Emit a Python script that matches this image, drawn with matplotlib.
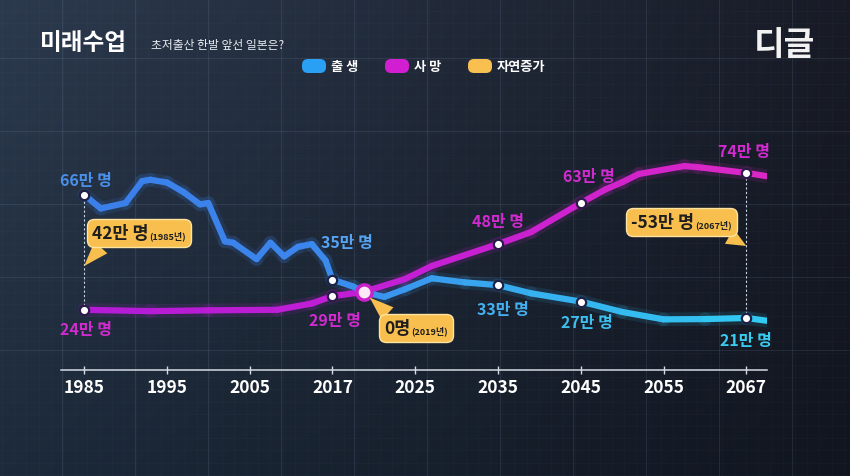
import numpy as np
import matplotlib
matplotlib.use("Agg")
import matplotlib.pyplot as plt
from matplotlib.collections import LineCollection
from matplotlib.colors import LinearSegmentedColormap
from matplotlib.patches import FancyBboxPatch
from matplotlib.offsetbox import TextArea, HPacker, AnnotationBbox

plt.rcParams['font.family'] = ['Noto Sans CJK KR', 'DejaVu Sans']

# axis ticks (evenly spaced on the chart even though the gaps differ)
tick_years = [1985, 1995, 2005, 2017, 2025, 2035, 2045, 2055, 2067]

# births (만 명)
birth_years = [1985, 1987, 1990, 1992, 1993, 1995, 1997, 1999, 2000, 2002, 2003,
               2006, 2008, 2010, 2012, 2014, 2016, 2017, 2019, 2020, 2022, 2024,
               2027, 2031, 2035, 2039, 2045, 2050, 2055, 2061, 2067, 2070]
births = [66, 61, 63, 71, 71.5, 70.5, 67, 62.5, 63, 49, 48.5,
          42.5, 48.5, 43.5, 47, 48, 42, 35, 32.5, 30.5, 28.7, 31.5,
          35.5, 34, 33, 30, 27, 23.2, 20.5, 20.6, 21, 20]

# deaths (만 명)
death_years = [1985, 1993, 2000, 2009, 2014, 2017, 2020, 2024, 2027, 2035, 2039,
               2045, 2048, 2050, 2052, 2058, 2060, 2067, 2070]
deaths = [24, 23.5, 23.8, 24, 26.3, 29, 30.5, 35.2, 40, 48, 52.4,
          63, 68, 70.6, 73.6, 76.5, 76.1, 74, 72.8]

# marked points
mark_years = [1985, 2017, 2035, 2045, 2067]
birth_marks = [66, 35, 33, 27, 21]
death_marks = [24, 29, 48, 63, 74]
cross_year, cross_value = 2020, 30.5

# natural increase callouts
natural_years = ['1985', '2019', '2067']
natural_values = ['42만 명', '0명', '-53만 명']

W, H = 850, 477
fig = plt.figure(figsize=(8.5, 4.77), dpi=100)

# background
bg = fig.add_axes([0, 0, 1, 1], zorder=0)
yy, xx = np.mgrid[0:1:120j, 0:1:200j]
tl = np.array([44, 58, 78]) / 255
tr = np.array([24, 27, 38]) / 255
bl = np.array([28, 42, 58]) / 255
br = np.array([17, 21, 31]) / 255
img = ((1 - xx)[..., None] * (1 - yy)[..., None] * tl + xx[..., None] * (1 - yy)[..., None] * tr
       + (1 - xx)[..., None] * yy[..., None] * bl + xx[..., None] * yy[..., None] * br)
bg.imshow(img, extent=[0, W, H, 0], aspect='auto', interpolation='bilinear')
for gx in np.arange(2, W, 12.2):
    bg.axvline(gx, color='#8fb0d0', lw=0.4, alpha=0.05)
for gy in np.arange(0, H, 12.2):
    bg.axhline(gy, color='#8fb0d0', lw=0.4, alpha=0.05)
for gx in np.arange(62, W, 73):
    bg.axvline(gx, color='#9fc0e0', lw=0.7, alpha=0.12)
for gy in np.arange(59, 400, 73):
    bg.axhline(gy, color='#9fc0e0', lw=0.7, alpha=0.12)
bg.set_xlim(0, W)
bg.set_ylim(H, 0)
bg.axis('off')

# title and legend
bg.text(40, 43, '미래수업', color='white', fontsize=17, fontweight='heavy', va='center')
bg.text(151, 46, '초저출산 한발 앞선 일본은?', color='#e8edf2', fontsize=8.5, va='center')
bg.text(784, 46, '디글', color='#f2f2f2', fontsize=24, fontweight='heavy', va='center', ha='center')
legend = [(302, '#2aa0f5', '출 생'), (385, '#d21dd0', '사 망'), (468, '#f9c050', '자연증가')]
for lx, lc, lt in legend:
    bg.add_patch(FancyBboxPatch((lx, 60), 24, 14, boxstyle='round,pad=0,rounding_size=6',
                                fc=lc, ec='none'))
    bg.text(lx + 29, 67, lt, color='white', fontsize=9.5, fontweight='bold', va='center')

# main chart
ax = fig.add_axes([61 / W, (H - 371) / H, (767 - 61) / W, 271 / H], zorder=2)
ax.patch.set_alpha(0)
ext_years = [1975] + tick_years + [2079]
ext_idx = [-1] + list(range(len(tick_years))) + [9]
fwd = lambda v: np.interp(v, ext_years, ext_idx)
inv = lambda v: np.interp(v, ext_idx, ext_years)
ax.set_xscale('function', functions=(fwd, inv))
ax.set_xlim(1982.2, 2070)
ax.set_ylim(2, 101)


def grad_line(xs, ys, colors, lw):
    pts = np.column_stack([xs, ys])
    segs = np.stack([pts[:-1], pts[1:]], axis=1)
    cmap = LinearSegmentedColormap.from_list('c', colors)
    mids = (np.array(xs[:-1]) + np.array(xs[1:])) / 2
    lc = LineCollection(segs, colors=cmap((mids - 1985) / 85), linewidths=lw,
                        capstyle='round', joinstyle='round', zorder=3)
    ax.add_collection(lc)
    glow = LineCollection(segs, colors=cmap((mids - 1985) / 85), linewidths=lw * 2.2,
                          capstyle='round', alpha=0.12, zorder=2)
    ax.add_collection(glow)


grad_line(death_years, deaths, ['#b31cd6', '#c51fd4', '#dc27c4'], 4.5)
grad_line(birth_years, births, ['#3b7fea', '#3b86ec', '#36b2f0', '#31cbf2'], 4.5)

# dashed guides
ax.plot([1985, 1985], [24, 66], ls=(0, (2, 2)), color='#c8d4e4', lw=0.8, zorder=2.5)
ax.plot([2067, 2067], [21, 74], ls=(0, (2, 2)), color='#c8d4e4', lw=0.8, zorder=2.5)

ax.scatter(mark_years, birth_marks, s=45, fc='white', ec='#1c2147', lw=1.6, zorder=5)
ax.scatter(mark_years, death_marks, s=45, fc='white', ec='#2a1a48', lw=1.6, zorder=5)
ax.scatter([cross_year], [cross_value], s=120, fc='#fde8f8', ec='#c822c8', lw=2.5, zorder=6)

birth_cols = ['#4a8fe8', '#57a3f2', '#44b0ef', '#3dc0f0', '#38ccf0']
birth_off = [(2, 15), (14, 38), (5, -24), (6, -20), (0, -22)]
for x, v, c, off in zip(mark_years, birth_marks, birth_cols, birth_off):
    ax.annotate(f'{v}만 명', (x, v), xytext=off, textcoords='offset pixels', color=c,
                fontsize=11.5, fontweight='bold', ha='center', va='center', zorder=7)
death_off = [(2, -19), (3, -24), (0, 23), (8, 27), (-2, 22)]
for x, v, off in zip(mark_years, death_marks, death_off):
    ax.annotate(f'{v}만 명', (x, v), xytext=off, textcoords='offset pixels', color='#d12bd0',
                fontsize=11.5, fontweight='bold', ha='center', va='center', zorder=7)

# callouts
call_box = [(1991.6, 52.0), (2025.1, 17.3), (2057.6, 56.1)]
call_tip = [(1985, 40), (cross_year, cross_value), (2067, 47.3)]
call_rel = [(0.15, 0.0), (0.15, 1.0), (0.88, 0.0)]
call_shrink = [0, 6, 0]
for yr, val, bxy, tip, rel, shr in zip(natural_years, natural_values, call_box, call_tip,
                                        call_rel, call_shrink):
    main = TextArea(val, textprops=dict(fontsize=12.5, fontweight='bold', color='#1e1e1e',
                                        family=['Noto Sans CJK KR', 'DejaVu Sans']))
    small = TextArea(f'({yr}년)', textprops=dict(fontsize=6.5, fontweight='bold', color='#1e1e1e'))
    pack = HPacker(children=[main, small], align='baseline', pad=0, sep=1)
    ab = AnnotationBbox(pack, tip, xybox=bxy, xycoords='data', boxcoords='data',
                        frameon=True, pad=0.35,
                        bboxprops=dict(boxstyle='round,pad=0.35,rounding_size=0.5',
                                       fc='#f8bf4f', ec='#ffe3a0', lw=1),
                        arrowprops=dict(arrowstyle='wedge,tail_width=0.9,shrink_factor=0.5',
                                        fc='#f8bf4f', ec='none', relpos=rel,
                                        shrinkA=0, shrinkB=shr),
                        zorder=8)
    ax.add_artist(ab)

for s in ['top', 'right', 'left']:
    ax.spines[s].set_visible(False)
ax.spines['bottom'].set_color('#d4dbe4')
ax.spines['bottom'].set_linewidth(1.1)
ax.set_yticks([])
ax.set_xticks(tick_years)
ax.set_xticklabels([str(t) for t in tick_years])
ax.tick_params(axis='x', direction='inout', length=6, width=1, color='#d4dbe4', pad=3,
               labelcolor='white', labelsize=12.5)
for lab in ax.get_xticklabels():
    lab.set_fontweight('bold')
ax.minorticks_off()

fig.savefig('out.png', dpi=100)
